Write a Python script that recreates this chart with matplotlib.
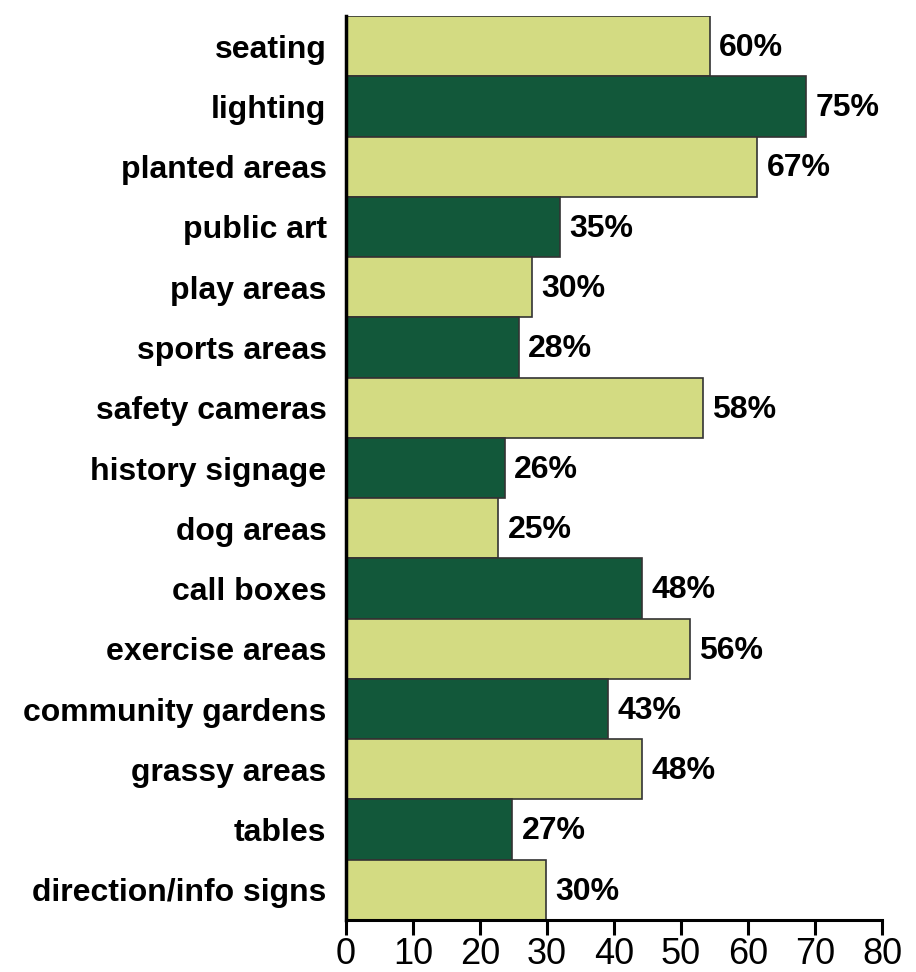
import matplotlib.pyplot as plt
import numpy as np

# Categories, top to bottom
categories = [
    "seating", "lighting", "planted areas", "public art", "play areas",
    "sports areas", "safety cameras", "history signage", "dog areas",
    "call boxes", "exercise areas", "community gardens", "grassy areas",
    "tables", "direction/info signs",
]
# bar lengths as drawn against the axis
bar_values = [54.3, 68.7, 61.4, 31.9, 27.8, 25.8, 53.3, 23.7, 22.7,
              44.2, 51.3, 39.1, 44.2, 24.8, 29.9]
# printed labels next to each bar
pct_labels = [60, 75, 67, 35, 30, 28, 58, 26, 25, 48, 56, 43, 48, 27, 30]

light = "#d3db82"
dark = "#12583a"
colors = [light if i % 2 == 0 else dark for i in range(len(categories))]

fig = plt.figure(figsize=(9.16, 9.72), dpi=100)
ax = fig.add_axes([346 / 916, 1 - 920 / 972, 536 / 916, 904 / 972])

y = np.arange(len(categories))
ax.barh(y, bar_values, height=1.0, color=colors, edgecolor="#333333", linewidth=1.2)

for yi, v, lab in zip(y, bar_values, pct_labels):
    ax.text(v + 1.4, yi + 0.03, f"{lab}%", va="center", ha="left",
            fontsize=23, fontweight="bold", family="Liberation Sans")

ax.set_xlim(0, 80)
ax.set_ylim(len(categories) - 0.5, -0.5)
ax.set_xticks(np.arange(0, 81, 10))
ax.set_yticks(y)
ax.set_yticklabels(categories, fontsize=23, fontweight="bold", family="Liberation Sans")
ax.tick_params(axis="y", length=0, pad=14)
ax.tick_params(axis="x", length=11, width=2.2, labelsize=26, pad=1)
for t in ax.get_xticklabels():
    t.set_family("Liberation Sans")

ax.spines["top"].set_visible(False)
ax.spines["right"].set_visible(False)
ax.spines["left"].set_linewidth(2.5)
ax.spines["bottom"].set_linewidth(2.2)

fig.savefig("out.png", dpi=100)
